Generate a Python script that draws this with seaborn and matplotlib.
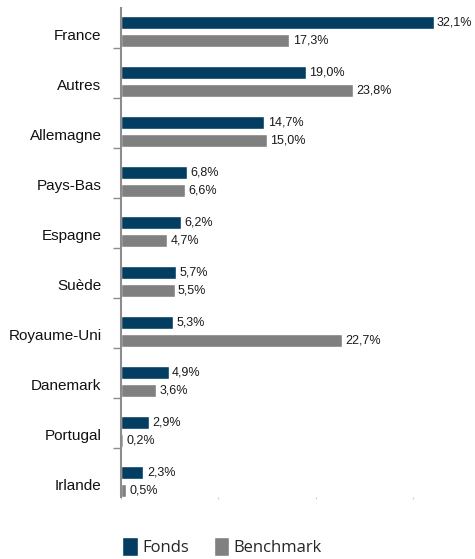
import pandas as pd
import matplotlib.pyplot as plt
import seaborn as sns

# données
pays = ['France', 'Autres', 'Allemagne', 'Pays-Bas', 'Espagne', 'Suède',
        'Royaume-Uni', 'Danemark', 'Portugal', 'Irlande']
fonds = [32.1, 19.0, 14.7, 6.8, 6.2, 5.7, 5.3, 4.9, 2.9, 2.3]
benchmark = [17.3, 23.8, 15.0, 6.6, 4.7, 5.5, 22.7, 3.6, 0.2, 0.5]
series = ['Fonds', 'Benchmark']

df = pd.DataFrame({
    'pays': pays * 2,
    'serie': ['Fonds'] * len(pays) + ['Benchmark'] * len(pays),
    'valeur': fonds + benchmark,
})

sns.set_style('white')
plt.rcParams['font.family'] = ['Liberation Sans', 'DejaVu Sans']

fig = plt.figure(figsize=(4.75, 5.59), dpi=100)
ax = fig.add_axes([0.2547, 0.1114, 0.738, 0.8743])

sns.barplot(data=df, y='pays', x='valeur', hue='serie', order=pays,
            hue_order=series, palette=['#033d62', '#808080'],
            orient='h', width=0.724, gap=0.28, ax=ax, saturation=1)

for cont in ax.containers:
    ax.bar_label(cont, labels=[f'{b.get_width():.1f}%'.replace('.', ',') for b in cont],
                 padding=2.5, fontsize=9, color='#1a1a1a')

ax.set_xlim(0, 36)
ax.set_ylim(9.308, -0.466)
ax.set_xlabel('')
ax.set_ylabel('')

# étiquettes et graduations
ax.set_yticks([i + 0.07 for i in range(len(pays))])
ax.set_yticklabels(pays, fontsize=11, color='#111111')
ax.tick_params(axis='y', length=0, pad=14)
ax.set_yticks([i + 0.34 for i in range(len(pays) - 1)], minor=True)
ax.tick_params(axis='y', which='minor', length=6, width=1, color='#8c8c8c', left=True)

ax.set_xticks([0, 10, 20, 30])
ax.set_xticklabels([])
ax.tick_params(axis='x', length=1.5, width=0.8, color='#cccccc', bottom=True)

for s in ['top', 'right', 'bottom']:
    ax.spines[s].set_visible(False)
ax.spines['left'].set_color('#8c8c8c')
ax.spines['left'].set_linewidth(1.5)

h, l = ax.get_legend_handles_labels()
ax.get_legend().remove()
fig.legend(h, l, loc='lower left', bbox_to_anchor=(0.225, -0.022), ncol=2,
           frameon=False, handlelength=0.95, handleheight=1.35, handletextpad=0.25,
           columnspacing=1.5, prop={'family': 'Open Sans', 'size': 12})

fig.savefig('out.png', dpi=100)
